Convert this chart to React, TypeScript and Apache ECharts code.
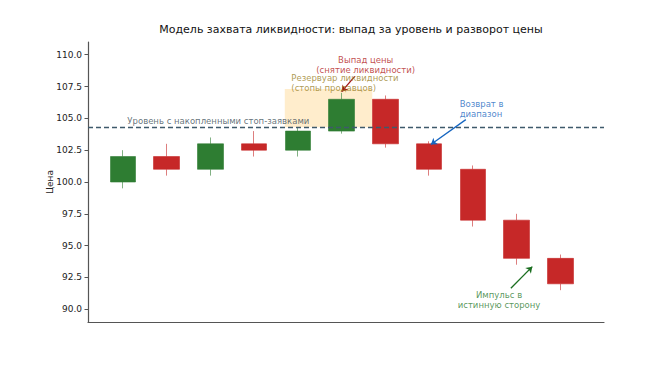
import React, { useEffect, useRef } from "react";
import * as echarts from "echarts";

// Candle sequence: a sweep above the stop level followed by a reversal
const candleIndex = [0, 1, 2, 3, 4, 5, 6, 7, 8, 9, 10];
const opens = [100, 102, 101, 103, 102.5, 104, 106.5, 103, 101, 97, 94];
const closes = [102, 101, 103, 102.5, 104, 106.5, 103, 101, 97, 94, 92];
const lows = [99.5, 100.5, 100.5, 102, 102, 103.8, 102.7, 100.5, 96.5, 93.5, 91.5];
const highs = [102.5, 103, 103.5, 104, 104.3, 107, 106.8, 103.2, 101.3, 97.5, 94.3];

const yTicks = [90, 92.5, 95, 97.5, 100, 102.5, 105, 107.5, 110];

// Level where stop orders accumulate
const stopLevel = 104.3;
// Liquidity pool above the level: [x from, x to, price top]
const poolX = [3.7, 5.7];
const poolTop = 107.3;

const FONT = "DejaVu Sans";

type Note = {
  text: string;
  at: [number, number];
  color: string;
  align: "left" | "center";
};

const notes: Note[] = [
  { text: "Уровень с накопленными стоп-заявками", at: [0.1, 104.82], color: "#3d4f5a", align: "left" },
  { text: "Резервуар ликвидности\n(стопы продавцов)", at: [3.85, 107.75], color: "#9a8228", align: "left" },
  { text: "Выпад цены\n(снятие ликвидности)", at: [5.55, 109.2], color: "#b22222", align: "center" },
  { text: "Возврат в\nдиапазон", at: [7.7, 105.75], color: "#1a68c0", align: "left" },
  { text: "Импульс в\nистинную сторону", at: [8.6, 90.75], color: "#2e7d32", align: "center" },
];

type Arrow = { from: [number, number]; to: [number, number]; color: string };

const arrows: Arrow[] = [
  { from: [5.3, 108.3], to: [5.0, 107.1], color: "#a31515" },
  { from: [7.84, 104.9], to: [7.04, 102.95], color: "#1565c0" },
  { from: [8.87, 91.65], to: [9.36, 93.35], color: "#1b6e20" },
];

export default function App() {
  const ref = useRef<HTMLDivElement>(null);

  useEffect(() => {
    if (!ref.current) return;
    const chart = echarts.init(ref.current, undefined, { renderer: "svg" });

    const candleData = candleIndex.map((x, i) => [x, opens[i], closes[i], lows[i], highs[i]]);

    chart.setOption({
      animation: false,
      textStyle: { fontFamily: FONT },
      title: {
        text: "Модель захвата ликвидности: выпад за уровень и разворот цены",
        left: 346,
        textAlign: "center",
        top: 19,
        textStyle: { fontFamily: FONT, fontSize: 11, fontWeight: "normal", color: "#111" },
      },
      grid: { left: 88, right: 58, top: 42, bottom: 45 },
      xAxis: {
        type: "value",
        min: -0.8,
        max: 11,
        axisLine: { show: true, onZero: false, lineStyle: { color: "#555", width: 1.2 } },
        axisTick: { show: false },
        axisLabel: { show: false },
        splitLine: { show: false },
      },
      yAxis: {
        type: "value",
        min: 89,
        max: 111,
        name: "Цена",
        nameLocation: "middle",
        nameGap: 34,
        nameMoveOverlap: false,
        nameTextStyle: { fontFamily: FONT, fontSize: 9, color: "#222" },
        axisLine: { show: true, onZero: false, lineStyle: { color: "#555", width: 1.2 } },
        axisTick: {
          show: true,
          length: 3.5,
          customValues: yTicks,
          lineStyle: { color: "#555" },
        },
        axisLabel: {
          customValues: yTicks,
          formatter: (v: number) => v.toFixed(1),
          fontFamily: FONT,
          fontSize: 9,
          color: "#222",
          margin: 6,
        },
        splitLine: { show: false },
      },
      series: [
        {
          name: "zone",
          type: "scatter",
          z: 1,
          data: [],
          markArea: {
            silent: true,
            itemStyle: { color: "rgba(255, 165, 0, 0.2)" },
            data: [[{ coord: [poolX[0], poolTop] }, { coord: [poolX[1], stopLevel] }]],
          },
          markLine: {
            silent: true,
            symbol: ["none", "none"],
            label: { show: false },
            lineStyle: { color: "#3f5a6b", type: [5, 3], width: 1.3 },
            data: [{ yAxis: stopLevel }],
          },
        },
        {
          name: "price",
          type: "candlestick",
          z: 3,
          barWidth: 26,
          encode: { x: 0, y: [1, 2, 3, 4] },
          data: candleData,
          itemStyle: {
            color: "#2e7d32",
            color0: "#c62828",
            borderColor: "rgba(46,125,50,0.6)",
            borderColor0: "rgba(198,40,40,0.6)",
            borderWidth: 1,
          },
        },
        {
          name: "notes",
          type: "scatter",
          z: 5,
          symbolSize: 0,
          data: notes.map((n) => ({
            value: n.at,
            label: {
              show: true,
              position: "inside",
              formatter: n.text,
              align: n.align,
              verticalAlign: "middle",
              color: n.color,
              fontFamily: FONT,
              fontSize: 8.5,
              lineHeight: 10,
            },
          })),
          markLine: {
            silent: true,
            symbol: ["none", "arrow"],
            symbolSize: 6,
            label: { show: false },
            data: arrows.map((a) => [
              { coord: a.from, lineStyle: { color: a.color, width: 1.3, type: "solid" } },
              { coord: a.to },
            ]),
          },
        },
      ],
    });

    return () => chart.dispose();
  }, []);

  return (
    <div
      ref={ref}
      style={{ position: "absolute", left: 0, top: 0, width: 662, height: 367 }}
    />
  );
}
